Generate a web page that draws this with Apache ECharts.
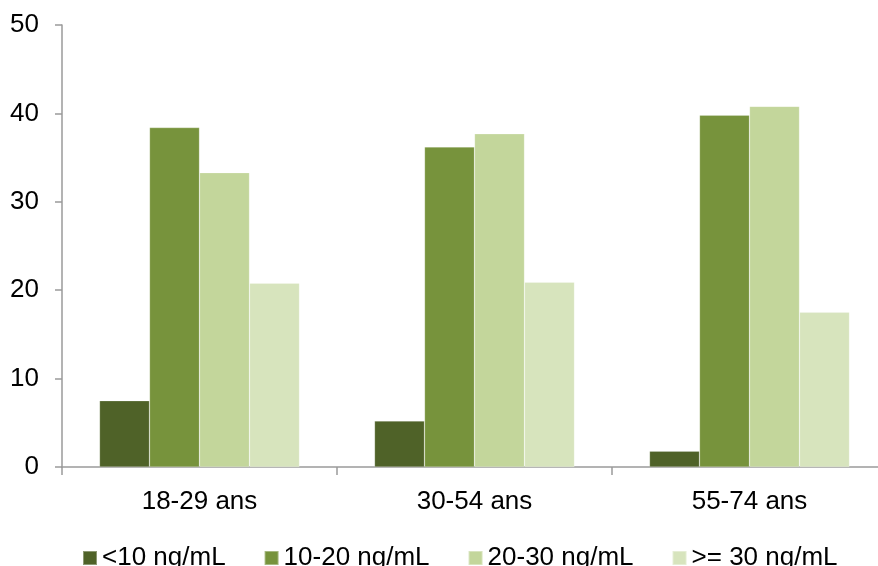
<!DOCTYPE html>
<html><head><meta charset="utf-8">
<script src="https://cdn.jsdelivr.net/npm/echarts@6/dist/echarts.min.js"></script>
<style>html,body{margin:0;padding:0;background:#fff}#c{width:878px;height:566px}</style>
</head><body><div id="c"></div>
<script>
var categories = ['18-29 ans', '30-54 ans', '55-74 ans'];
var seriesNames = ['<10 ng/mL', '10-20 ng/mL', '20-30 ng/mL', '>= 30 ng/mL'];
var lt10 = [7.5, 5.2, 1.8];
var s10to20 = [38.4, 36.2, 39.8];
var s20to30 = [33.3, 37.7, 40.8];
var ge30 = [20.8, 20.9, 17.5];
var yTicks = [0, 10, 20, 30, 40, 50];
var colors = ['#4f6228', '#77933c', '#c3d69b', '#d7e4bd'];

var chart = echarts.init(document.getElementById('c'), null, {renderer: 'canvas'});
var font = 'Liberation Sans, Arial, sans-serif';
var axisColor = '#9a9a9a';
var dataSets = [lt10, s10to20, s20to30, ge30];
chart.setOption({
  animation: false,
  color: colors,
  textStyle: {fontFamily: font},
  grid: {left: 62, top: 25, height: 442, width: 825, containLabel: false, outerBoundsMode: 'none'},
  legend: {
    left: 82, top: 545, padding: 0, itemWidth: 14, itemHeight: 14, itemGap: 38,
    icon: 'rect',
    textStyle: {fontSize: 26, color: '#000', fontFamily: font},
    data: seriesNames
  },
  xAxis: {
    type: 'category', data: categories,
    axisLine: {lineStyle: {color: axisColor, width: 1.5}},
    axisTick: {show: true, length: 8, lineStyle: {color: axisColor, width: 1.5}},
    axisLabel: {fontSize: 26, color: '#000', margin: 22, fontFamily: font}
  },
  yAxis: {
    type: 'value', min: yTicks[0], max: yTicks[yTicks.length - 1], interval: 10,
    axisLine: {show: true, lineStyle: {color: axisColor, width: 1.5}},
    axisTick: {show: true, length: 7, lineStyle: {color: axisColor, width: 1.5}},
    splitLine: {show: false},
    axisLabel: {fontSize: 26, color: '#000', margin: 23, fontFamily: font}
  },
  series: seriesNames.map(function (n, i) {
    return {
      name: n, type: 'bar', data: dataSets[i], barWidth: 50, barGap: '0%',
      itemStyle: {color: colors[i], borderColor: 'rgba(255,255,255,0.35)', borderWidth: 0.6}
    };
  })
});
</script></body></html>
